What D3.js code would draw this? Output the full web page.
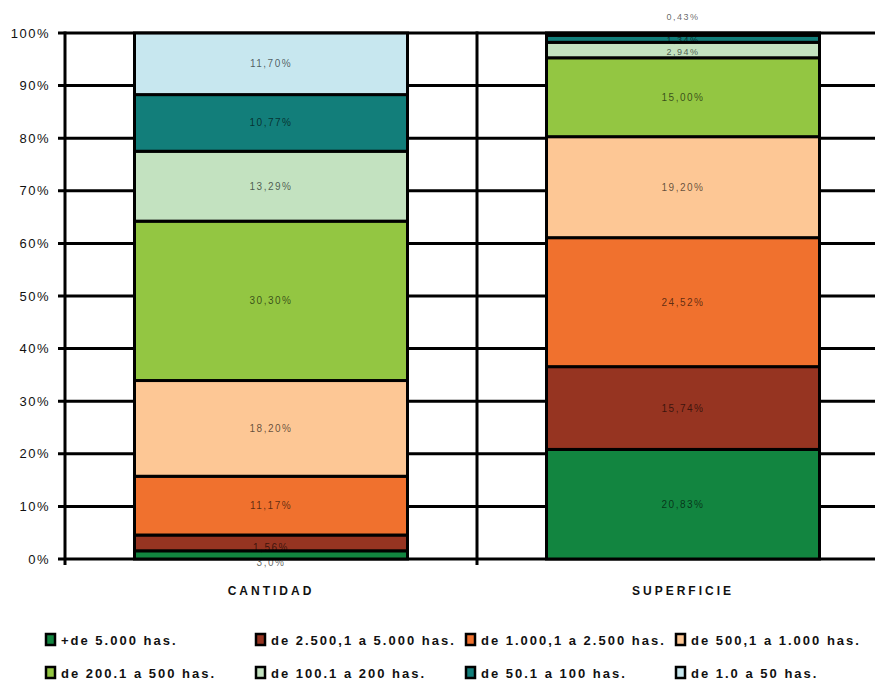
<!DOCTYPE html>
<html>
<head>
<meta charset="utf-8">
<script src="https://cdn.jsdelivr.net/npm/d3@7"></script>
<style>
  body { margin: 0; background: #fff; }
  text { font-family: "Liberation Sans", Arial, sans-serif; }
</style>
</head>
<body>
<div id="chart"></div>
<script>
// datos del grafico
var categorias = ["CANTIDAD", "SUPERFICIE"];
var rangos = ["+de 5.000 has.", "de 2.500,1 a 5.000 has.", "de 1.000,1 a 2.500 has.", "de 500,1 a 1.000 has.",
              "de 200.1 a 500 has.", "de 100.1 a 200 has.", "de 50.1 a 100 has.", "de 1.0 a 50 has."];
var cantidad = [1.56, 3.0, 11.17, 18.20, 30.30, 13.29, 10.77, 11.70];
var superficie = [20.83, 15.74, 24.52, 19.20, 15.00, 2.94, 1.34, 0.43];
var etiquetasCantidad = ["1,56%", "3,0%", "11,17%", "18,20%", "30,30%", "13,29%", "10,77%", "11,70%"];
var etiquetasSuperficie = ["20,83%", "15,74%", "24,52%", "19,20%", "15,00%", "2,94%", "1,34%", "0,43%"];
var ticksY = [0, 10, 20, 30, 40, 50, 60, 70, 80, 90, 100];

var colores = ["#128540", "#963421", "#f0712e", "#fdc795", "#93c642", "#c3e2c0", "#127e7a", "#c7e7ef"];

var width = 875, height = 680;
var margin = {top: 33, left: 65, bottom: 121};

var svg = d3.select("#chart").append("svg")
    .attr("width", width)
    .attr("height", height);

var y = d3.scaleLinear().domain([0, 100]).range([height - margin.bottom, margin.top]);
var x = d3.scaleBand().domain(categorias).range([margin.left, 889]).padding(0);
var barW = 273;

// tabla para el stack
var tabla = categorias.map(function(c, i) {
    var fila = {cat: c};
    var vals = i === 0 ? cantidad : superficie;
    rangos.forEach(function(r, j) { fila[j] = vals[j]; });
    return fila;
});
var etiquetas = [etiquetasCantidad, etiquetasSuperficie];

var stack = d3.stack().keys(d3.range(rangos.length));
var series = stack(tabla);

// grilla horizontal
svg.append("g").selectAll("line")
    .data(ticksY)
    .enter().append("line")
    .attr("x1", margin.left - 7)
    .attr("x2", width)
    .attr("y1", function(d) { return y(d); })
    .attr("y2", function(d) { return y(d); })
    .attr("stroke", "#000")
    .attr("stroke-width", 3);

// lineas verticales
svg.append("line")
    .attr("x1", margin.left).attr("x2", margin.left)
    .attr("y1", y(100) - 1.5).attr("y2", y(0) + 6)
    .attr("stroke", "#000").attr("stroke-width", 3);
svg.append("line")
    .attr("x1", x.range()[0] + x.step()).attr("x2", x.range()[0] + x.step())
    .attr("y1", y(100) - 1.5).attr("y2", y(0) + 6)
    .attr("stroke", "#000").attr("stroke-width", 3);

// etiquetas eje y
svg.append("g").selectAll("text")
    .data(ticksY)
    .enter().append("text")
    .attr("x", 50)
    .attr("y", function(d) { return y(d); })
    .attr("dy", "0.36em")
    .attr("text-anchor", "end")
    .attr("font-size", 13)
    .attr("letter-spacing", "1.5px")
    .attr("fill", "#111")
    .text(function(d) { return d + "%"; });

// barras apiladas
var capas = svg.append("g").selectAll("g")
    .data(series)
    .enter().append("g")
    .attr("fill", function(d, i) { return colores[i]; });

capas.selectAll("rect")
    .data(function(d) { return d; })
    .enter().append("rect")
    .attr("x", function(d) { return x(d.data.cat) + (x.bandwidth() - barW) / 2; })
    .attr("y", function(d) { return y(d[1]); })
    .attr("width", barW)
    .attr("height", function(d) { return y(d[0]) - y(d[1]); })
    .attr("stroke", "#000")
    .attr("stroke-width", 3);

// ajustes para etiquetas chicas (px)
var ajuste = {"0-0": -7, "0-1": 20, "1-6": 1, "1-5": 2, "1-7": -17};

series.forEach(function(s, i) {
    s.forEach(function(d, j) {
        var cy = y((d[0] + d[1]) / 2) + (ajuste[j + "-" + i] || 0);
        svg.append("text")
            .attr("x", x(d.data.cat) + x.bandwidth() / 2)
            .attr("y", cy)
            .attr("dy", "0.35em")
            .attr("text-anchor", "middle")
            .attr("font-size", i >= 5 && j === 1 ? 9 : 10)
            .attr("letter-spacing", "1.5px")
            .attr("fill", "#000")
            .attr("fill-opacity", 0.62)
            .text(etiquetas[j][i]);
    });
});

// categorias
svg.append("g").selectAll("text")
    .data(categorias)
    .enter().append("text")
    .attr("x", function(d) { return x(d) + x.bandwidth() / 2; })
    .attr("y", 595)
    .attr("text-anchor", "middle")
    .attr("font-size", 12)
    .attr("font-weight", "bold")
    .attr("letter-spacing", "3px")
    .attr("fill", "#111")
    .text(function(d) { return d; });

// leyenda
var leyenda = svg.append("g").selectAll("g")
    .data(rangos)
    .enter().append("g")
    .attr("transform", function(d, i) {
        return "translate(" + (46 + (i % 4) * 210) + "," + (640 + Math.floor(i / 4) * 33) + ")";
    });

leyenda.append("rect")
    .attr("x", 0).attr("y", -6)
    .attr("width", 9).attr("height", 11)
    .attr("fill", function(d, i) { return colores[i]; })
    .attr("stroke", "#000")
    .attr("stroke-width", 2.5);

leyenda.append("text")
    .attr("x", 15)
    .attr("y", 0)
    .attr("dy", "0.38em")
    .attr("font-size", 13)
    .attr("font-weight", "bold")
    .attr("letter-spacing", "2px")
    .attr("fill", "#111")
    .text(function(d) { return d; });
</script>
</body>
</html>
